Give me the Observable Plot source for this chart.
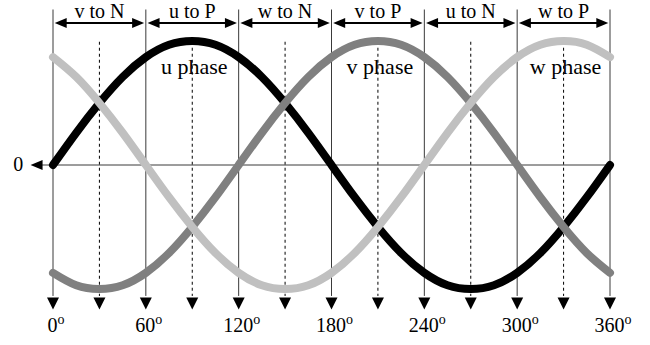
<!DOCTYPE html>
<html>
<head>
<meta charset="utf-8">
<script src="https://cdn.jsdelivr.net/npm/d3@7"></script>
<script src="https://cdn.jsdelivr.net/npm/@observablehq/plot@0.6"></script>
<style>
  body { margin: 0; background: #fff; }
  svg { display: block; }
</style>
</head>
<body>
<div id="chart"></div>
<script>
// Electrical angle (degrees) at which each phase voltage is sampled
const angles = [0, 15, 30, 45, 60, 75, 90, 105, 120, 135, 150, 165, 180,
                195, 210, 225, 240, 255, 270, 285, 300, 315, 330, 345, 360];

// Normalised phase voltages
const uPhase = [0, 0.26, 0.5, 0.71, 0.87, 0.97, 1, 0.97, 0.87, 0.71, 0.5, 0.26, 0,
                -0.26, -0.5, -0.71, -0.87, -0.97, -1, -0.97, -0.87, -0.71, -0.5, -0.26, 0];
const vPhase = [-0.87, -0.97, -1, -0.97, -0.87, -0.71, -0.5, -0.26, 0, 0.26, 0.5, 0.71, 0.87,
                0.97, 1, 0.97, 0.87, 0.71, 0.5, 0.26, 0, -0.26, -0.5, -0.71, -0.87];
const wPhase = [0.87, 0.71, 0.5, 0.26, 0, -0.26, -0.5, -0.71, -0.87, -0.97, -1, -0.97, -0.87,
                -0.71, -0.5, -0.26, 0, 0.26, 0.5, 0.71, 0.87, 0.97, 1, 0.97, 0.87];

// Switching intervals along the top
const switchStarts = [0, 60, 120, 180, 240, 300];
const switchLabels = ["v to N", "u to P", "w to N", "v to P", "u to N", "w to P"];

// Tick positions along the bottom
const majorTicks = [0, 60, 120, 180, 240, 300, 360];
const midTicks = [30, 90, 150, 210, 270, 330];

// Phase labels
const phaseNames = ["u phase", "v phase", "w phase"];
const phaseAngles = [90, 210, 330];

// Annotation levels, in units of the normalised voltage
const ARROW_Y = 1.145;      // double-headed interval arrows
const TOP_LABEL_Y = 1.185;  // interval labels (baseline)
const LINE_TOP = 1.25;      // top of the solid boundary lines
const DOT_TOP = 0.99;       // top of the dotted centre lines
const HEAD_BASE = -1.06;    // where the down arrowheads begin
const HEAD_TIP = -1.165;    // tip of the down arrowheads
const TICK_LABEL_Y = -1.345;
const PHASE_LABEL_Y = 0.73;
const GAP = 1.1;            // degrees between a boundary line and an arrow tip

const rows = (values) => angles.map((a, i) => ({angle: a, value: values[i]}));

// Filled arrowhead pointing right, tip at the origin
const head = (len, wid) => ({
  draw(ctx) {
    ctx.moveTo(0, 0);
    ctx.lineTo(-len, -wid / 2);
    ctx.lineTo(-len, wid / 2);
    ctx.closePath();
  }
});
const sideHead = head(12, 10);
const downHead = head(12, 12);

const serif = "Liberation Serif, Times New Roman, serif";

const chart = Plot.plot({
  width: 650,
  height: 345,
  marginLeft: 52.5,
  marginRight: 40.5,
  marginTop: 40.5,
  marginBottom: 56.5,
  x: {domain: [0, 360], axis: null},
  y: {domain: [-1, 1], axis: null},
  style: {background: "#fff", fontFamily: serif, color: "#000", overflow: "visible"},
  marks: [
    // solid boundary lines every 60°
    Plot.ruleX(majorTicks, {x: d => d, y1: () => LINE_TOP, y2: () => HEAD_BASE, stroke: "#3a3a3a", strokeWidth: 1}),
    // dotted centre lines every 60°, offset by 30°
    Plot.ruleX(midTicks, {x: d => d, y1: () => DOT_TOP, y2: () => HEAD_BASE, stroke: "#000", strokeWidth: 1, strokeDasharray: "3,3"}),
    // zero reference line with its arrow
    Plot.ruleY([0], {y: d => d, x1: () => -7, x2: () => 360, stroke: "#3a3a3a", strokeWidth: 1}),
    Plot.dot([0], {x: () => -14.5, y: d => d, symbol: sideHead, rotate: 180, fill: "#000", stroke: "none"}),
    // down arrowheads at every line
    Plot.dot(majorTicks.concat(midTicks), {x: d => d, y: () => HEAD_TIP, symbol: downHead, rotate: 90, fill: "#000", stroke: "none"}),
    // interval arrows along the top
    Plot.ruleY(switchStarts, {y: () => ARROW_Y, x1: d => d + GAP + 3, x2: d => d + 60 - GAP - 3, stroke: "#000", strokeWidth: 2}),
    Plot.dot(switchStarts, {x: d => d + GAP, y: () => ARROW_Y, symbol: sideHead, rotate: 180, fill: "#000", stroke: "none"}),
    Plot.dot(switchStarts, {x: d => d + 60 - GAP, y: () => ARROW_Y, symbol: sideHead, rotate: 0, fill: "#000", stroke: "none"}),
    Plot.text(switchStarts, {x: d => d + 30, y: () => TOP_LABEL_Y, text: (d, i) => switchLabels[i],
      lineAnchor: "bottom", fontSize: 20, fill: "#000"}),
    // the three phase voltages
    Plot.line(rows(uPhase), {x: "angle", y: "value", curve: "natural", stroke: "#000", strokeWidth: 8, strokeLinecap: "round"}),
    Plot.line(rows(vPhase), {x: "angle", y: "value", curve: "natural", stroke: "#808080", strokeWidth: 8, strokeLinecap: "round"}),
    Plot.line(rows(wPhase), {x: "angle", y: "value", curve: "natural", stroke: "#c0c0c0", strokeWidth: 8, strokeLinecap: "round"}),
    Plot.text(phaseAngles, {x: d => d, y: () => PHASE_LABEL_Y, text: (d, i) => phaseNames[i],
      lineAnchor: "bottom", fontSize: 22, dx: 2, fill: "#000"}),
    // zero label
    Plot.text([0], {x: () => -22.5, y: d => d, text: () => "0", fontSize: 20, fill: "#000"}),
    // angle labels
    Plot.text(majorTicks, {x: d => d, y: () => TICK_LABEL_Y, text: d => String(d),
      lineAnchor: "bottom", fontSize: 20, dx: 3, fill: "#000", ariaDescription: "angle labels"})
  ]
});

// raised "o" after each angle value
d3.select(chart).selectAll('g[aria-description="angle labels"] text').each(function () {
  d3.select(this).append("tspan").attr("font-size", 14).attr("dy", "-8").text("o");
});

document.getElementById("chart").append(chart);
</script>
</body>
</html>
